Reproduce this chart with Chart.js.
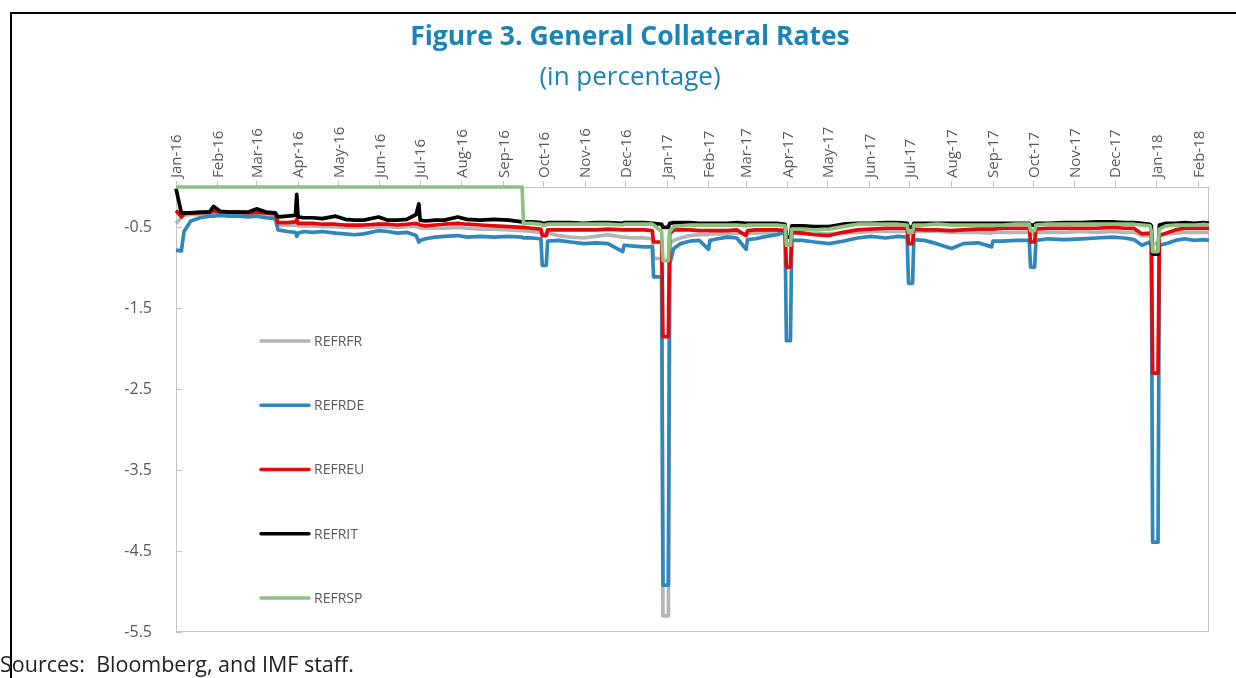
<!DOCTYPE html>
<html lang="en">
<head>
<meta charset="UTF-8">
<title>General Collateral Rates</title>
<script src="https://cdn.jsdelivr.net/npm/chart.js"></script>
<style>
    html, body { margin: 0; padding: 0; background: #fff; }
    body { width: 1236px; height: 678px; position: relative; overflow: hidden; font-family: 'Open Sans', sans-serif; }
    #frame { position: absolute; left: 10px; top: 12px; width: 1300px; height: 800px;
             border-top: 2px solid #000; border-left: 2px solid #000; }
    #chart { position: absolute; left: 0; top: 0; }
    .title { position: absolute; left: 12px; width: 1236px; text-align: center; color: #1b84b3; white-space: nowrap; }
    #t1 { top: 17px; font-size: 26.5px; font-weight: 700; }
    #t2 { top: 57px; font-size: 26px; font-weight: 400; }
    #source { position: absolute; left: 0; top: 649px; font-size: 21.5px; color: #222; white-space: pre; }
</style>
</head>
<body>
<div id="frame"></div>
<canvas id="chart" width="1236" height="678"></canvas>
<div class="title" id="t1">Figure 3. General Collateral Rates</div>
<div class="title" id="t2">(in percentage)</div>
<div id="source">Sources:  Bloomberg, and IMF staff.</div>
<script>
// observation dates (shared by all series)
const dates = [
    '2016-01-01','2016-01-05','2016-01-07','2016-01-12','2016-01-19','2016-01-26','2016-01-29','2016-02-03','2016-02-10','2016-02-17',
    '2016-02-24','2016-03-01','2016-03-08','2016-03-15','2016-03-17','2016-03-24','2016-03-30','2016-03-31','2016-04-01','2016-04-05',
    '2016-04-12','2016-04-19','2016-04-29','2016-05-06','2016-05-13','2016-05-20','2016-05-31','2016-06-07','2016-06-14','2016-06-21',
    '2016-06-28','2016-06-30','2016-07-01','2016-07-05','2016-07-12','2016-07-19','2016-07-29','2016-08-05','2016-08-15','2016-08-25',
    '2016-09-05','2016-09-15','2016-09-16','2016-09-22','2016-09-29','2016-09-30','2016-10-03','2016-10-04','2016-10-12','2016-10-21',
    '2016-10-31','2016-11-09','2016-11-18','2016-11-29','2016-11-30','2016-12-07','2016-12-15','2016-12-21','2016-12-22','2016-12-28',
    '2016-12-29','2017-01-02','2017-01-03','2017-01-06','2017-01-11','2017-01-18','2017-01-25','2017-02-01','2017-02-02','2017-02-08',
    '2017-02-15','2017-02-22','2017-03-01','2017-03-02','2017-03-08','2017-03-16','2017-03-24','2017-03-30','2017-03-31','2017-04-03',
    '2017-04-04','2017-04-12','2017-04-21','2017-05-02','2017-05-12','2017-05-23','2017-06-02','2017-06-13','2017-06-22','2017-06-29',
    '2017-06-30','2017-07-03','2017-07-04','2017-07-12','2017-07-21','2017-08-01','2017-08-10','2017-08-21','2017-08-31','2017-09-01',
    '2017-09-08','2017-09-18','2017-09-28','2017-09-29','2017-10-02','2017-10-03','2017-10-12','2017-10-24','2017-11-06','2017-11-17',
    '2017-11-29','2017-12-08','2017-12-15','2017-12-21','2017-12-27','2017-12-28','2017-12-29','2018-01-02','2018-01-03','2018-01-08',
    '2018-01-15','2018-01-22','2018-01-29','2018-02-05','2018-02-09'
];

const refrfr = [
    -0.45,-0.38,-0.35,-0.34,-0.34,-0.33,-0.33,-0.33,-0.33,-0.34,
    -0.34,-0.34,-0.35,-0.36,-0.47,-0.47,-0.47,-0.45,-0.48,-0.48,
    -0.48,-0.49,-0.49,-0.50,-0.50,-0.50,-0.49,-0.49,-0.50,-0.49,
    -0.49,-0.50,-0.51,-0.51,-0.51,-0.51,-0.50,-0.51,-0.52,-0.52,
    -0.53,-0.54,-0.54,-0.55,-0.56,-0.58,-0.58,-0.57,-0.60,-0.62,
    -0.63,-0.61,-0.59,-0.62,-0.62,-0.63,-0.63,-0.64,-0.88,-0.89,
    -5.30,-5.30,-0.70,-0.66,-0.63,-0.60,-0.59,-0.59,-0.58,-0.58,
    -0.58,-0.57,-0.58,-0.57,-0.57,-0.56,-0.56,-0.56,-0.70,-0.70,
    -0.57,-0.57,-0.58,-0.58,-0.57,-0.56,-0.55,-0.55,-0.55,-0.55,
    -0.58,-0.58,-0.55,-0.55,-0.55,-0.56,-0.56,-0.56,-0.57,-0.56,
    -0.56,-0.56,-0.56,-0.58,-0.58,-0.56,-0.56,-0.56,-0.55,-0.56,
    -0.55,-0.56,-0.56,-0.60,-0.60,-0.62,-0.70,-0.70,-0.60,-0.58,
    -0.57,-0.56,-0.56,-0.56,-0.56
];

const refrde = [
    -0.78,-0.79,-0.55,-0.42,-0.38,-0.36,-0.36,-0.35,-0.36,-0.36,
    -0.37,-0.36,-0.38,-0.39,-0.53,-0.55,-0.56,-0.61,-0.57,-0.55,
    -0.56,-0.55,-0.57,-0.58,-0.59,-0.58,-0.54,-0.55,-0.57,-0.56,
    -0.60,-0.68,-0.66,-0.64,-0.62,-0.61,-0.60,-0.62,-0.61,-0.62,
    -0.61,-0.62,-0.63,-0.63,-0.64,-0.97,-0.97,-0.67,-0.66,-0.68,
    -0.70,-0.69,-0.70,-0.80,-0.72,-0.73,-0.74,-0.74,-1.11,-1.11,
    -4.92,-4.92,-0.95,-0.76,-0.70,-0.67,-0.66,-0.77,-0.66,-0.64,
    -0.62,-0.63,-0.77,-0.65,-0.64,-0.61,-0.59,-0.56,-1.90,-1.90,
    -0.66,-0.66,-0.68,-0.70,-0.67,-0.63,-0.61,-0.63,-0.61,-0.62,
    -1.19,-1.19,-0.65,-0.66,-0.70,-0.76,-0.70,-0.69,-0.74,-0.67,
    -0.67,-0.66,-0.66,-0.99,-0.99,-0.66,-0.64,-0.65,-0.64,-0.63,
    -0.62,-0.63,-0.65,-0.72,-0.68,-0.74,-4.39,-4.39,-0.72,-0.70,
    -0.66,-0.64,-0.66,-0.65,-0.66
];

const refreu = [
    -0.29,-0.37,-0.33,-0.32,-0.32,-0.31,-0.30,-0.31,-0.31,-0.31,
    -0.32,-0.31,-0.32,-0.33,-0.44,-0.44,-0.43,-0.40,-0.45,-0.45,
    -0.45,-0.46,-0.46,-0.47,-0.47,-0.47,-0.46,-0.46,-0.47,-0.46,
    -0.45,-0.46,-0.47,-0.48,-0.47,-0.46,-0.45,-0.46,-0.47,-0.48,
    -0.49,-0.50,-0.50,-0.51,-0.52,-0.60,-0.60,-0.53,-0.53,-0.53,
    -0.53,-0.53,-0.52,-0.53,-0.53,-0.53,-0.53,-0.54,-0.68,-0.68,
    -1.85,-1.85,-0.58,-0.53,-0.53,-0.53,-0.54,-0.54,-0.54,-0.54,
    -0.54,-0.53,-0.60,-0.54,-0.53,-0.53,-0.53,-0.54,-0.99,-0.99,
    -0.56,-0.57,-0.59,-0.60,-0.56,-0.53,-0.52,-0.51,-0.51,-0.51,
    -0.70,-0.70,-0.52,-0.53,-0.53,-0.54,-0.53,-0.52,-0.52,-0.52,
    -0.51,-0.51,-0.51,-0.68,-0.68,-0.52,-0.51,-0.51,-0.51,-0.51,
    -0.50,-0.51,-0.51,-0.58,-0.57,-0.58,-2.30,-2.30,-0.60,-0.57,
    -0.53,-0.51,-0.51,-0.51,-0.51
];

const refrit = [
    -0.02,-0.32,-0.32,-0.32,-0.31,-0.31,-0.24,-0.30,-0.31,-0.31,
    -0.31,-0.27,-0.31,-0.32,-0.37,-0.36,-0.35,-0.09,-0.37,-0.38,
    -0.38,-0.39,-0.36,-0.40,-0.41,-0.41,-0.37,-0.41,-0.41,-0.40,
    -0.34,-0.21,-0.41,-0.42,-0.41,-0.41,-0.37,-0.40,-0.41,-0.40,
    -0.41,-0.43,-0.43,-0.43,-0.44,-0.45,-0.45,-0.44,-0.44,-0.44,
    -0.45,-0.44,-0.44,-0.45,-0.44,-0.44,-0.44,-0.45,-0.45,-0.46,
    -0.50,-0.50,-0.45,-0.44,-0.44,-0.44,-0.45,-0.45,-0.45,-0.45,
    -0.45,-0.44,-0.45,-0.45,-0.45,-0.45,-0.45,-0.46,-0.62,-0.62,
    -0.48,-0.48,-0.49,-0.49,-0.46,-0.45,-0.45,-0.44,-0.44,-0.45,
    -0.50,-0.50,-0.45,-0.45,-0.45,-0.45,-0.45,-0.45,-0.45,-0.45,
    -0.45,-0.45,-0.45,-0.47,-0.47,-0.45,-0.45,-0.44,-0.44,-0.43,
    -0.43,-0.44,-0.44,-0.45,-0.46,-0.48,-0.83,-0.83,-0.47,-0.45,
    -0.45,-0.44,-0.45,-0.44,-0.45
];

const refrsp = [
    0,0,0,0,0,0,0,0,0,0,
    0,0,0,0,0,0,0,0,0,0,
    0,0,0,0,0,0,0,0,0,0,
    0,0,0,0,0,0,0,0,0,0,
    0,0,-0.45,-0.45,-0.46,-0.47,-0.47,-0.46,-0.46,-0.46,
    -0.46,-0.46,-0.46,-0.47,-0.46,-0.46,-0.46,-0.46,-0.47,-0.55,
    -0.91,-0.91,-0.55,-0.49,-0.48,-0.47,-0.47,-0.47,-0.47,-0.47,
    -0.47,-0.47,-0.48,-0.47,-0.47,-0.47,-0.47,-0.48,-0.72,-0.72,
    -0.52,-0.52,-0.53,-0.52,-0.49,-0.46,-0.46,-0.46,-0.46,-0.47,
    -0.56,-0.56,-0.47,-0.47,-0.46,-0.47,-0.47,-0.47,-0.47,-0.47,
    -0.47,-0.46,-0.46,-0.54,-0.54,-0.47,-0.46,-0.46,-0.46,-0.46,
    -0.46,-0.46,-0.46,-0.47,-0.48,-0.55,-0.80,-0.80,-0.52,-0.48,
    -0.47,-0.47,-0.47,-0.46,-0.47
];

const seriesNames = ['REFRFR', 'REFRDE', 'REFREU', 'REFRIT', 'REFRSP'];
const seriesColors = ['#b5b5b5', '#2f87bc', '#e2080b', '#000000', '#8cc27e'];

const tickDates = [
    '2016-01-01','2016-02-01','2016-03-01','2016-04-01','2016-05-01','2016-06-01','2016-07-01','2016-08-01','2016-09-01',
    '2016-10-01','2016-11-01','2016-12-01','2017-01-01','2017-02-01','2017-03-01','2017-04-01','2017-05-01','2017-06-01',
    '2017-07-01','2017-08-01','2017-09-01','2017-10-01','2017-11-01','2017-12-01','2018-01-01','2018-02-01'
];
const tickLabels = [
    'Jan-16','Feb-16','Mar-16','Apr-16','May-16','Jun-16','Jul-16','Aug-16','Sep-16',
    'Oct-16','Nov-16','Dec-16','Jan-17','Feb-17','Mar-17','Apr-17','May-17','Jun-17',
    'Jul-17','Aug-17','Sep-17','Oct-17','Nov-17','Dec-17','Jan-18','Feb-18'
];
const yTicks = [-0.5, -1.5, -2.5, -3.5, -4.5, -5.5];

// days since 1 Jan 2016, used as the x value
function toDay(s) {
    const p = s.split('-').map(Number);
    return (Date.UTC(p[0], p[1] - 1, p[2]) - Date.UTC(2016, 0, 1)) / 86400000;
}

const xs = dates.map(toDay);
const allValues = [refrfr, refrde, refreu, refrit, refrsp];

const datasets = allValues.map((vals, i) => ({
    label: seriesNames[i],
    data: vals.map((v, j) => ({ x: xs[j], y: v })),
    borderColor: seriesColors[i],
    backgroundColor: seriesColors[i],
    borderWidth: 3.7,
    pointRadius: 0,
    tension: 0,
    borderJoinStyle: 'round',
    clip: false,
    order: 5 - i // later series drawn on top
}));

const axisGrey = '#c4c4c4';
const labelGrey = '#595959';

// plot frame, inner y ticks and the in-plot legend
const decorations = {
    id: 'decorations',
    beforeDatasetsDraw(chart) {
        const { ctx, chartArea: a, scales } = chart;
        ctx.save();
        ctx.strokeStyle = axisGrey;
        ctx.lineWidth = 1;
        ctx.strokeRect(a.left + 0.5, a.top + 0.5, a.width - 1, a.height - 1);
        yTicks.forEach(v => {
            const y = Math.round(scales.y.getPixelForValue(v)) + 0.5;
            ctx.beginPath();
            ctx.moveTo(a.left, y);
            ctx.lineTo(a.left + 6, y);
            ctx.stroke();
        });
        ctx.restore();
    },
    afterDatasetsDraw(chart) {
        const { ctx, chartArea: a } = chart;
        ctx.save();
        ctx.font = '14px "Open Sans"';
        ctx.textBaseline = 'middle';
        seriesNames.forEach((name, i) => {
            const y = a.top + 154 + i * 64.25;
            ctx.strokeStyle = seriesColors[i];
            ctx.lineWidth = 3.5;
            ctx.lineCap = 'round';
            ctx.beginPath();
            ctx.moveTo(a.left + 85, y);
            ctx.lineTo(a.left + 133, y);
            ctx.stroke();
            ctx.fillStyle = labelGrey;
            ctx.fillText(name, a.left + 138, y + 1);
        });
        ctx.restore();
    }
};

new Chart(document.getElementById('chart'), {
    type: 'line',
    data: { datasets: datasets },
    options: {
        responsive: false,
        animation: false,
        devicePixelRatio: 1,
        layout: { padding: { left: 0, top: 120, right: 27, bottom: 46 } },
        plugins: {
            legend: { display: false },
            title: { display: false },
            tooltip: { enabled: false }
        },
        scales: {
            x: {
                type: 'linear',
                position: 'top',
                min: 0,
                max: xs[xs.length - 1],
                afterBuildTicks: s => { s.ticks = tickDates.map(d => ({ value: toDay(d) })); },
                afterFit: s => { s.height = 67; s.paddingLeft = 0; s.paddingRight = 0; },
                ticks: {
                    autoSkip: false,
                    minRotation: 90,
                    maxRotation: 90,
                    padding: 3,
                    labelOffset: 19,
                    color: labelGrey,
                    font: { family: 'Open Sans', size: 15 },
                    callback: (v, i) => tickLabels[i]
                },
                grid: { drawOnChartArea: false, drawTicks: true, tickLength: 6, color: axisGrey },
                border: { color: axisGrey }
            },
            y: {
                type: 'linear',
                min: -5.5,
                max: 0,
                afterBuildTicks: s => { s.ticks = yTicks.map(v => ({ value: v })); },
                afterFit: s => { s.width = 176; s.paddingTop = 0; s.paddingBottom = 0; },
                ticks: {
                    padding: 24,
                    color: labelGrey,
                    font: { family: 'Open Sans', size: 16 },
                    callback: v => v.toFixed(1)
                },
                grid: { drawOnChartArea: false, drawTicks: false },
                border: { color: axisGrey }
            }
        }
    },
    plugins: [decorations]
});
</script>
</body>
</html>
